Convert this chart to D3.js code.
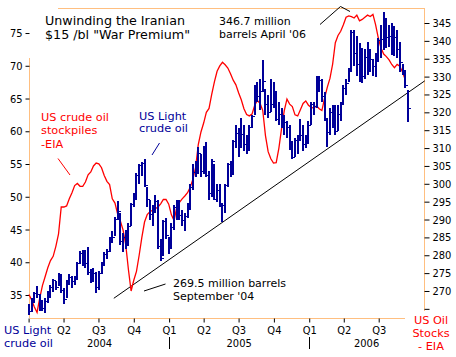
<!DOCTYPE html>
<html><head><meta charset="utf-8">
<script src="https://cdn.jsdelivr.net/npm/d3@7"></script>
<style>
html,body{margin:0;padding:0;background:#fff;}
svg text{font-family:"DejaVu Sans",Verdana,sans-serif;}
.tk text{font-family:"DejaVu Sans Condensed","DejaVu Sans",sans-serif;font-size:11px;fill:#000;}
</style></head>
<body>
<svg id="c" width="456" height="357"></svg>
<script>
// ---- data ----
const firstWeek = "2004-01-02"; // weekly bars (Fridays)
const priceHigh = [33.6,34.6,35.5,36.3,35.2,34.2,34.5,35.6,36.6,37.5,37.2,38.3,38.2,36.0,37.3,38.2,37.9,37.9,40.0,41.7,41.9,41.9,42.3,38.9,39.2,38.5,38.6,40.0,41.5,42.0,43.9,44.8,46.9,49.4,47.5,44.5,45.0,46.0,49.0,50.5,53.6,55.0,55.3,55.7,51.5,49.5,48.8,50.3,49.5,43.5,46.5,46.8,43.9,
 46.0,48.8,49.5,49.5,48.0,47.5,49.0,52.0,55.0,55.5,57.6,56.5,57.7,58.3,54.0,55.8,55.0,52.0,52.0,49.0,52.0,55.2,55.5,58.6,60.9,60.5,62.1,61.0,59.5,61.0,62.5,67.0,67.5,68.0,70.9,66.5,65.5,68.0,67.5,66.0,64.5,63.5,62.5,61.5,61.0,58.5,59.0,59.5,61.9,61.0,59.5,61.5,
 64.5,64.5,68.5,68.5,68.0,66.0,62.0,63.5,64.0,64.0,64.0,64.5,67.0,68.0,69.6,75.4,75.4,74.5,73.5,72.7,72.5,73.6,72.5,71.0,72.0,74.2,76.2,78.2,77.3,76.2,76.5,76.0,75.5,73.6,70.3,69.4,66.3];
const priceLow = [32.0,32.4,33.8,34.5,32.5,32.6,32.2,33.8,34.6,35.5,35.7,36.3,35.3,33.7,34.5,36.5,36.0,36.5,37.5,39.8,39.5,39.2,38.0,36.9,37.0,35.3,35.8,38.2,39.5,40.5,41.5,43.0,44.0,46.5,42.7,41.6,42.0,42.5,45.5,48.5,49.5,52.0,53.2,51.5,48.5,46.5,45.5,47.5,42.0,40.2,41.0,43.6,41.3,
 42.0,45.0,46.5,46.5,45.5,44.8,46.8,48.0,51.0,53.0,53.5,53.0,53.5,53.0,49.5,50.0,49.5,49.2,48.5,46.2,47.5,51.5,53.0,53.5,57.5,56.0,57.5,57.0,56.5,57.0,60.5,62.5,64.5,63.2,66.0,62.5,62.0,63.0,63.5,61.5,61.0,60.5,59.5,59.0,57.2,55.8,56.0,56.5,58.5,57.0,57.5,58.0,
 61.0,62.5,63.5,66.0,64.5,61.5,57.6,59.5,60.5,59.5,60.0,61.5,64.0,65.5,67.5,69.0,70.0,68.5,67.5,67.4,68.0,68.6,69.0,68.5,68.3,70.5,71.2,72.4,72.7,72.9,71.6,71.5,71.2,69.0,68.6,66.6,61.4];
const priceClose = [32.5,34.3,35.3,35.2,33.1,33.0,34.1,35.0,36.2,37.3,36.2,37.9,35.7,34.4,37.1,37.7,37.1,37.4,39.9,41.4,39.9,39.9,38.5,38.5,38.3,36.2,38.4,39.9,41.3,41.7,43.8,43.9,46.6,47.9,43.2,43.9,42.8,45.6,48.9,50.1,53.3,54.8,55.2,51.8,49.6,47.3,48.4,49.4,42.5,40.7,46.3,44.2,43.5,
 45.4,48.4,48.5,47.2,46.5,47.1,48.4,51.5,53.8,54.4,56.7,54.0,57.3,53.3,50.5,55.4,49.7,51.0,48.7,48.7,51.8,55.0,53.5,58.5,59.8,59.0,59.6,58.1,58.7,60.6,62.3,66.9,65.4,66.1,67.6,64.1,63.0,64.2,66.2,61.8,62.6,60.9,61.4,60.6,57.5,56.1,58.7,59.3,59.4,58.1,58.4,61.0,
 64.2,63.9,68.4,67.8,65.4,61.8,59.9,62.9,63.7,60.0,62.7,64.3,66.6,67.4,69.3,75.2,72.0,70.2,72.0,68.5,71.4,72.3,71.1,69.9,70.9,73.9,74.1,77.0,74.4,74.5,74.8,74.4,72.5,70.5,69.2,67.0,63.6];
const crudeStocks = [269,267.5,265.5,264,268,271.5,274,276.5,278.5,279.7,282.5,286,293.5,293.5,293.8,295.8,297.5,299.5,300.1,299.3,299.3,300.5,302.5,303.3,305,305.8,305.6,304.5,302.3,300.7,299.8,295.8,294.6,291.5,289.6,287.1,283,276,270,273,275.5,280,285,289.3,291.4,292.2,292.6,293,293.5,294.4,295.6,295.6,294.3,
 291.3,289.7,293.5,294.8,295.8,296.6,297.5,299,301.3,304.5,311,314.5,317,320,321.1,325,328.5,331.5,333,334,333.3,332.4,330.8,329,327.7,325.5,323.5,321,319.4,319,319.5,322,323.3,322.5,320.5,313.5,309,307,305.8,305.9,310,315.5,320.5,323.7,322.3,321.6,319.3,319,320.7,322.5,323.2,322,
 321.4,321.2,321.8,321,320.5,324,327,329.5,333.5,339.5,341.5,342.7,344.5,346.6,347,346.8,346.4,347.2,345.6,346,346.6,347.2,346.8,347.4,344.5,340.8,338,336.3,335.6,334.7,333.4,332.5,333.4,332.9,331.3,329.2];
const trendDates = ["2004-08-10","2006-10-29"];
const trendValues = [34.5, 67.7];
const leftTicks = [35,40,45,50,55,60,65,70,75];
const rightTicks = [265,270,275,280,285,290,295,300,305,310,315,320,325,330,335,340,345];
const quarterDates = ["2004-01-01","2004-04-01","2004-07-01","2004-10-01","2005-01-01","2005-04-01","2005-07-01","2005-10-01","2006-01-01","2006-04-01","2006-07-01"];
const quarterLabels = ["","Q2","Q3","Q4","Q1","Q2","Q3","Q4","Q1","Q2","Q3"];
const years = ["2004","2005","2006"];

// ---- chart ----
const svg = d3.select("#c");
const L = 30, R = 424, T = 8, B = 318;
const parse = d3.timeParse("%Y-%m-%d");
const t0 = parse(firstWeek);
const weeks = d3.range(priceHigh.length).map(i => d3.timeDay.offset(t0, 7*i));

const x = d3.scaleTime().domain([parse("2004-01-01"), parse("2006-10-27")]).range([28.6, R]);
const yL = d3.scaleLinear().domain([31.49, 78.82]).range([B, T]);
const yR = d3.scaleLinear().domain([262.44, 349.2]).range([B, T]);

const orange = "#ffbf80", red = "#ff0000", navy = "#000099";

// frame
const frame = svg.append("g").attr("stroke", orange).attr("stroke-width", 1).attr("fill","none");
frame.append("line").attr("x1", 58).attr("x2", R).attr("y1", T+0.5).attr("y2", T+0.5);
frame.append("line").attr("x1", L-0.5).attr("x2", L-0.5).attr("y1", 58).attr("y2", B);
frame.append("line").attr("x1", R+0.5).attr("x2", R+0.5).attr("y1", T).attr("y2", 311);
frame.append("line").attr("x1", L).attr("x2", 405).attr("y1", B+0.5).attr("y2", B+0.5);

// axes
const ax1 = svg.append("g").attr("class","tk").attr("transform",`translate(${L-0.5},0)`)
  .call(d3.axisLeft(yL).tickValues(leftTicks).tickSize(4).tickPadding(3));
ax1.select(".domain").remove();
ax1.selectAll("line").attr("stroke","#000");
const ax2 = svg.append("g").attr("class","tk").attr("transform",`translate(${R+0.5},0)`)
  .call(d3.axisRight(yR).tickValues(rightTicks).tickSize(5).tickPadding(3).tickFormat(d => d===265 ? "" : d));
ax2.select(".domain").remove();
ax2.selectAll("line").attr("stroke","#000");
const ax3 = svg.append("g").attr("class","tk").attr("transform",`translate(0,${B+0.5})`)
  .call(d3.axisBottom(x).tickValues(quarterDates.map(parse)).tickSize(4).tickPadding(4)
    .tickFormat((d,i) => quarterLabels[i]));
ax3.select(".domain").remove();
ax3.selectAll("line").attr("stroke","#000");

// year labels + separators
const yStarts = [parse("2004-01-01"), parse("2005-01-01"), parse("2006-01-01")];
const yEnds = [x(yStarts[1]), x(yStarts[2]), R];
svg.append("g").attr("class","tk").selectAll("text").data(years).join("text")
  .attr("x",(d,i)=> ((i===0?L:x(yStarts[i])) + yEnds[i]) / 2).attr("y",347)
  .attr("text-anchor","middle").text(d=>d);
svg.selectAll("line.sep").data(yStarts.slice(1)).join("line").attr("class","sep")
  .attr("x1",d=>Math.round(x(d))+0.5).attr("x2",d=>Math.round(x(d))+0.5)
  .attr("y1",337).attr("y2",349).attr("stroke","#000");

// trend line
svg.append("line")
  .attr("x1", x(parse(trendDates[0]))).attr("y1", yL(trendValues[0]))
  .attr("x2", x(parse(trendDates[1]))).attr("y2", yL(trendValues[1]))
  .attr("stroke","#000").attr("stroke-width",1);

// red stocks line
svg.append("path").datum(crudeStocks)
  .attr("fill","none").attr("stroke",red).attr("stroke-width",1.3)
  .attr("d", d3.line().x((d,i)=>x(weeks[i])).y(d=>yR(d)));

// price bars
const bars = svg.append("g").attr("stroke",navy).attr("shape-rendering","crispEdges");
weeks.forEach((w,i)=>{
  const cx = Math.round(x(w));
  bars.append("line").attr("x1",cx).attr("x2",cx).attr("stroke-width",2)
    .attr("y1",Math.round(yL(priceHigh[i]))).attr("y2",Math.round(yL(priceLow[i])));
  const cy = Math.round(yL(priceClose[i])) + 0.5;
  bars.append("line").attr("x1",cx+1).attr("x2",cx+3).attr("y1",cy).attr("y2",cy).attr("stroke-width",1);
});

// annotations
function txt(lines, x0, y0, dy, color, size, anchor) {
  const t = svg.append("text").attr("fill",color).attr("font-size",size).attr("text-anchor",anchor||"start");
  lines.forEach((s,i)=> t.append("tspan").attr("x",x0).attr("y",y0+i*dy).text(s));
}
txt(["Unwinding the Iranian", "$15 /bl \"War Premium\""], 45, 25, 13.5, "#000", "12.7px");
txt(["346.7 million", "barrels April '06"], 219, 24.5, 13, "#000", "11px");
txt(["US crude oil", "stockpiles", "-EIA"], 41, 120.5, 13.5, red, "11.3px");
txt(["US Light", "crude oil"], 139, 119.5, 12.5, navy, "11.3px");
txt(["269.5 million barrels", "September '04"], 173, 287, 12.5, "#000", "11px");
txt(["US Light", "crude oil"], 4, 334, 12.5, navy, "11.3px");
txt(["US Oil", "Stocks", "- EIA"], 431, 323.5, 13, red, "11.3px", "middle");

// leader lines
const lead = (pts, color) => svg.append("path").attr("d", d3.line()(pts)).attr("fill","none").attr("stroke",color).attr("stroke-width",1);
lead([[320,24.5],[340.5,6.5],[350,11.5]], "#000");
lead([[58,158.5],[70,175]], red);
lead([[152,155],[159.5,143]], navy);
lead([[144,291],[165.5,284]], "#000");
</script>
</body></html>
